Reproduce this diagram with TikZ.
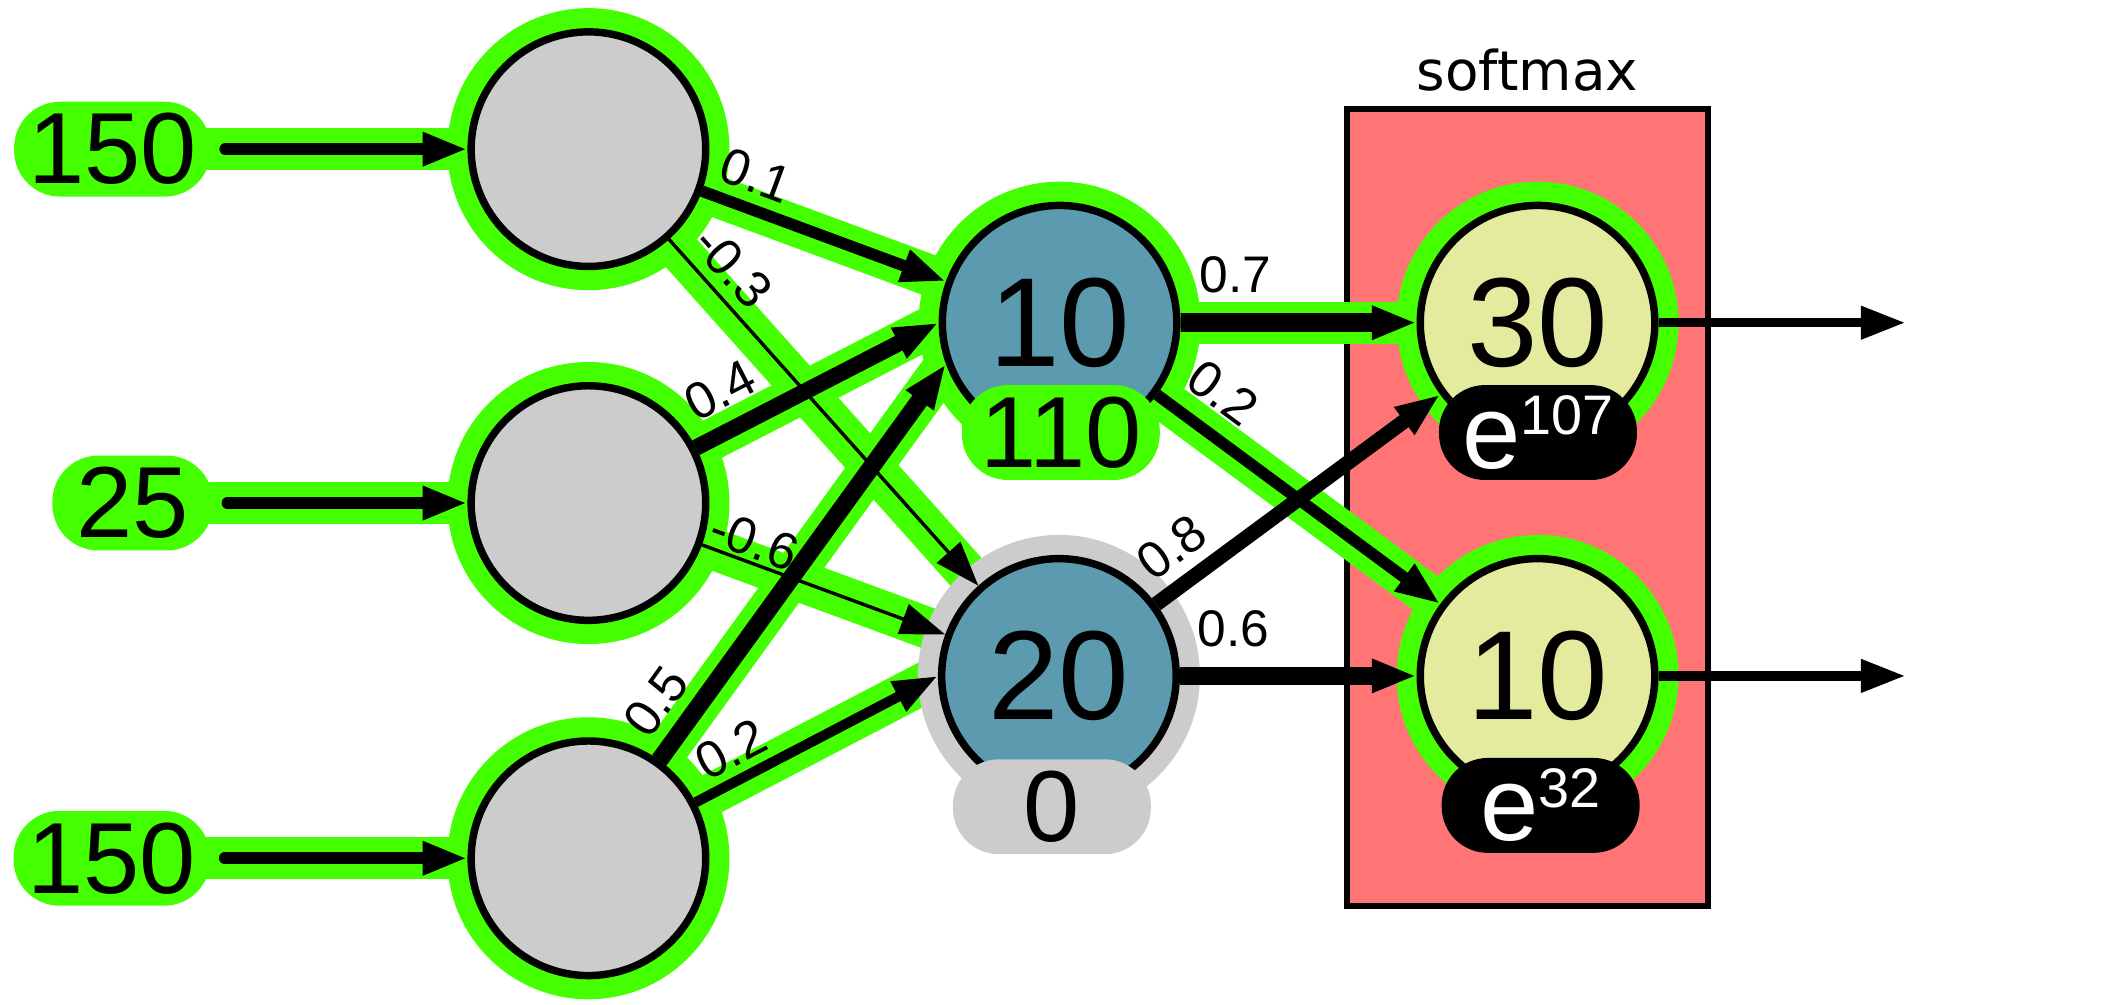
\documentclass[tikz,border=0pt]{standalone}
\usepackage{fontspec}
\setmainfont{Liberation Sans}
\newfontfamily\titlefont{DejaVu Sans}
\usetikzlibrary{arrows.meta}
\pgfdeclarelayer{bg}
\pgfdeclarelayer{glow}
\pgfsetlayers{bg,glow,main}
\definecolor{glowgreen}{RGB}{68,255,0}
\definecolor{idlegray}{RGB}{204,204,204}
\definecolor{hidteal}{RGB}{91,154,175}
\definecolor{outcream}{RGB}{229,235,158}
\definecolor{boxsalmon}{RGB}{255,117,117}
\tikzset{
  neuron/.style={circle,draw=black,line width=0.55mm,minimum size=17.3mm,inner sep=0pt,font=\fontsize{26.6}{30}\selectfont},
  inneuron/.style={neuron,fill=idlegray},
  hidneuron/.style={neuron,fill=hidteal},
  outneuron/.style={neuron,fill=outcream},
  pill/.style={rectangle,rounded corners=3.4mm,minimum height=7mm,inner sep=0pt,font=\fontsize{21.2}{24}\selectfont},
  valpill/.style={pill,minimum width=14.6mm},
  expill/.style={valpill,fill=black,text=white,font=\fontsize{22}{24}\selectfont},
  band/.style={draw=glowgreen,line width=3.07mm},
  wire/.style={-{Triangle[length=3.3mm,width=2.3mm]},line width=#1},
  inwire/.style={wire=0.86mm,line cap=round,shorten <=1mm},
  wlabel/.style={sloped,inner sep=0.3mm,font=\fontsize{10.8}{12}\selectfont}
}
\begin{document}
\begin{tikzpicture}[x=0.1mm,y=-0.1mm]
  \useasboundingbox (0,0) rectangle (1568,740.5);
  \begin{pgfonlayer}{bg}
    \node[draw=black,line width=0.45mm,fill=boxsalmon,minimum width=26.65mm,minimum height=58.79mm,inner sep=0pt] (smax) at (1126.75,374.55) {};
  \end{pgfonlayer}
  \node[font=\titlefont\fontsize{11.5}{13}\selectfont,anchor=base,inner sep=0pt] (smaxtitle) at (1126.5,66.4) {softmax};
  \node[inneuron] (in1) at (434,110) {};
  \node[inneuron] (in2) at (434,371) {};
  \node[inneuron] (in3) at (434,633) {};
  \node[pill,fill=glowgreen,minimum width=14.5mm] (x1) at (82.9,110) {150};
  \node[pill,fill=glowgreen,minimum width=11.84mm] (x2) at (97.8,371) {25};
  \node[pill,fill=glowgreen,minimum width=14.5mm] (x3) at (82.5,633) {150};
  \node[hidneuron] (h1) at (781.5,238) {10};
  \node[hidneuron] (h2) at (781,498.5) {20};
  \node[outneuron] (o1) at (1134,238) {30};
  \node[outneuron] (o2) at (1134,498.5) {10};
  \coordinate (y1) at (1405.5,238);
  \coordinate (y2) at (1405.5,498.5);
  \begin{pgfonlayer}{glow}
    \draw[band] (x1.center) -- (in1.center);
    \draw[band] (x2.center) -- (in2.center);
    \draw[band] (x3.center) -- (in3.center);
    \draw[band] (in1.center) -- (h1.160);
    \draw[band] (in1.center) -- (h2.center);
    \draw[band] (in2.center) -- (h1.west);
    \draw[band] (in2.center) -- (h2.160);
    \draw[band] (in3.center) -- (h1.200);
    \draw[band] (in3.center) -- (h2.west);
    \draw[band] (h1.center) -- (o1.center);
    \draw[band] (h1.center) -- (o2.center);
    \foreach \n in {in1,in2,in3,h1,o1,o2}
      \fill[glowgreen] (\n) circle (10.4mm);
    \fill[idlegray] (h2) circle (10.4mm);
  \end{pgfonlayer}
  \draw[inwire] (x1) -- (in1);
  \draw[inwire] (x2) -- (in2);
  \draw[inwire] (x3) -- (in3);
  \draw[wire=0.85mm] (in1) -- (h1.160) node[wlabel,pos=0.174,above=0.41mm] {0.1};
  \draw[wire=0.25mm] (in1) -- (h2) node[wlabel,pos=0.136,above=0.39mm] {-0.3};
  \draw[wire=1.2mm] (in2) -- (h1.west) node[wlabel,pos=0.174,above=0.7mm] {0.4};
  \draw[wire=0.25mm] (in2) -- (h2.160) node[wlabel,pos=0.185,above=-0.14mm] {-0.6};
  \draw[wire=1.3mm] (in3) -- (h1.200) node[wlabel,pos=0.093,above=0.47mm] {0.5};
  \draw[wire=0.75mm] (in3) -- (h2.west) node[wlabel,pos=0.204,above=0.26mm] {0.2};
  \draw[wire=1.4mm] (h1) -- (o1) node[wlabel,pos=0.233,above=1.16mm] {0.7};
  \draw[wire=0.85mm] (h1) -- (o2) node[wlabel,pos=0.147,above=0.94mm] {0.2};
  \draw[wire=1.1mm] (h2) -- (o1) node[wlabel,pos=0.131,above=0.51mm] {0.8};
  \draw[wire=1.35mm] (h2) -- (o2) node[wlabel,pos=0.225,above=1.14mm] {0.6};
  \draw[wire=0.7mm] (o1) -- (y1);
  \draw[wire=0.7mm] (o2) -- (y2);
  \node[valpill,fill=glowgreen] (a1) at (782.4,319) {110};
  \node[valpill,fill=idlegray] (a2) at (775.8,595) {0};
  \node[expill] (s1) at (1134.3,319) {e\raisebox{2.44mm}{\fontsize{11.7}{13}\selectfont 107}};
  \node[expill] (s2) at (1136.3,594) {e\raisebox{2.44mm}{\fontsize{11.7}{13}\selectfont 32}};
\end{tikzpicture}
\end{document}
